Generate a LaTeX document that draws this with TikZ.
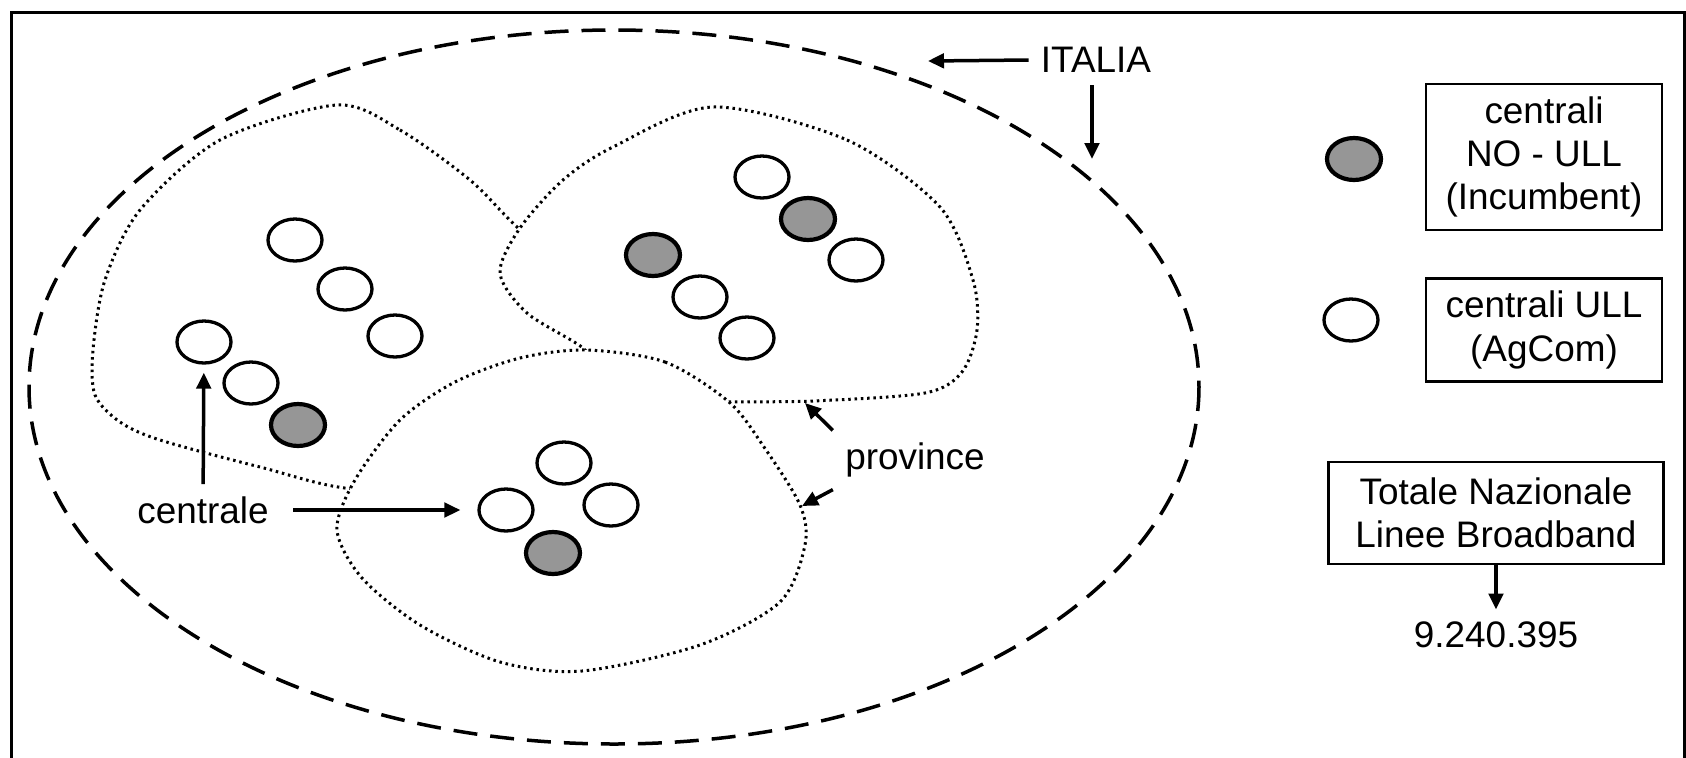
\documentclass[tikz,border=0pt]{standalone}
\usepackage{fontspec}
\setmainfont{Liberation Sans}
\usetikzlibrary{shapes.geometric,arrows.meta}
\definecolor{grigio}{RGB}{150,150,150}
\begin{document}
\begin{tikzpicture}[x=0.1mm,y=-0.1mm,
        every node/.style={font=\fontsize{10.5}{12.3}\selectfont},
        centrale ull/.style={ellipse,draw,line width=0.33mm,fill=white,minimum width=5.4mm,minimum height=4.2mm,inner sep=0pt},
        centrale no/.style={centrale ull,fill=grigio,line width=0.42mm},
        provincia/.style={draw,fill=white,line width=0.3mm,dash pattern=on 0.25mm off 0.38mm},
        legenda/.style={draw,line width=0.25mm,align=center,inner sep=0pt},
        freccia/.style={-{Triangle[length=1.6mm,width=1.45mm]},line width=0.35mm}]
        \useasboundingbox (0,0) rectangle (1686,758);
        \draw[line width=0.3mm] (11,780) -- (11,12) -- (1684,12) -- (1684,780);
        \draw[line width=0.35mm,dash pattern=on 2.4mm off 1.3mm] (614,387) ellipse [x radius=585,y radius=357];
        \draw[provincia] plot[smooth cycle] coordinates {(337,105) (400,130) (470,180) (518,228) (600,300) (620,400) (480,480) (355,489) (260,467) (160,440) (120,422) (95,395) (93,350) (105,280) (140,210) (220,140)};
        \draw[provincia] plot[smooth cycle] coordinates {(713,107) (847,140) (940,207) (973,280) (977,330) (962,372) (925,393) (813,401) (728,402) (680,405) (610,380) (583,348) (527,313) (500,273) (520,228) (563,180) (613,147)};
        \draw[provincia] plot[smooth cycle] coordinates {(586,350) (665,362) (729,402) (764,447) (800,505) (805,545) (780,602) (700,645) (582,671) (500,662) (420,625) (362,578) (337,530) (355,480) (400,420) (455,382) (520,358)};
        \node[centrale ull] (a1) at (295,240) {};
        \node[centrale ull] (a2) at (345,289) {};
        \node[centrale ull] (a3) at (395,336) {};
        \node[centrale ull] (a4) at (204,342) {};
        \node[centrale ull] (a5) at (251,383) {};
        \node[centrale no] (a6) at (298,425) {};
        \node[centrale ull] (b1) at (762,177) {};
        \node[centrale no] (b2) at (808,219) {};
        \node[centrale ull] (b3) at (856,260) {};
        \node[centrale no] (b4) at (653,255) {};
        \node[centrale ull] (b5) at (700,297) {};
        \node[centrale ull] (b6) at (747,338) {};
        \node[centrale ull] (c1) at (564,463) {};
        \node[centrale ull] (c2) at (506,510) {};
        \node[centrale ull] (c3) at (611,505) {};
        \node[centrale no] (c4) at (553,553) {};
        \node (italia) at (1096,60) {ITALIA};
        \coordinate (italia-o) at (928,61);
        \coordinate (italia-s) at (1092,159);
        \draw[freccia] (italia.west) -- (italia-o);
        \draw[freccia] (italia-s |- italia.south) -- (italia-s);
        \node (centrale) at (203,510) {centrale};
        \draw[freccia,shorten >=0.8mm] (centrale) -- (a4);
        \draw[freccia,shorten <=1.2mm,shorten >=1.7mm] (centrale) -- (c2);
        \node (province) at (915,460) {province};
        \coordinate (prov-b) at (805,403);
        \coordinate (prov-c) at (802,506);
        \draw[freccia] (province.north west) -- (prov-b);
        \draw[freccia] (province.south west) -- (prov-c);
        \node[centrale no] (lg1) at (1354,159) {};
        \node[centrale ull] (lg2) at (1351,320) {};
        \node[legenda,minimum width=23.6mm,minimum height=14.6mm] (leg-no) at (1544,157) {centrali\\NO - ULL\\(Incumbent)};
        \node[legenda,minimum width=23.6mm,minimum height=10.3mm] (leg-ull) at (1544,330) {centrali ULL\\(AgCom)};
        \node[legenda,minimum width=33.5mm,minimum height=10.2mm] (totale) at (1496,513) {Totale Nazionale\\Linee Broadband};
        \node (numero) at (1496,635) {9.240.395};
        \draw[freccia] (totale) -- (numero);
    \end{tikzpicture}
\end{document}
